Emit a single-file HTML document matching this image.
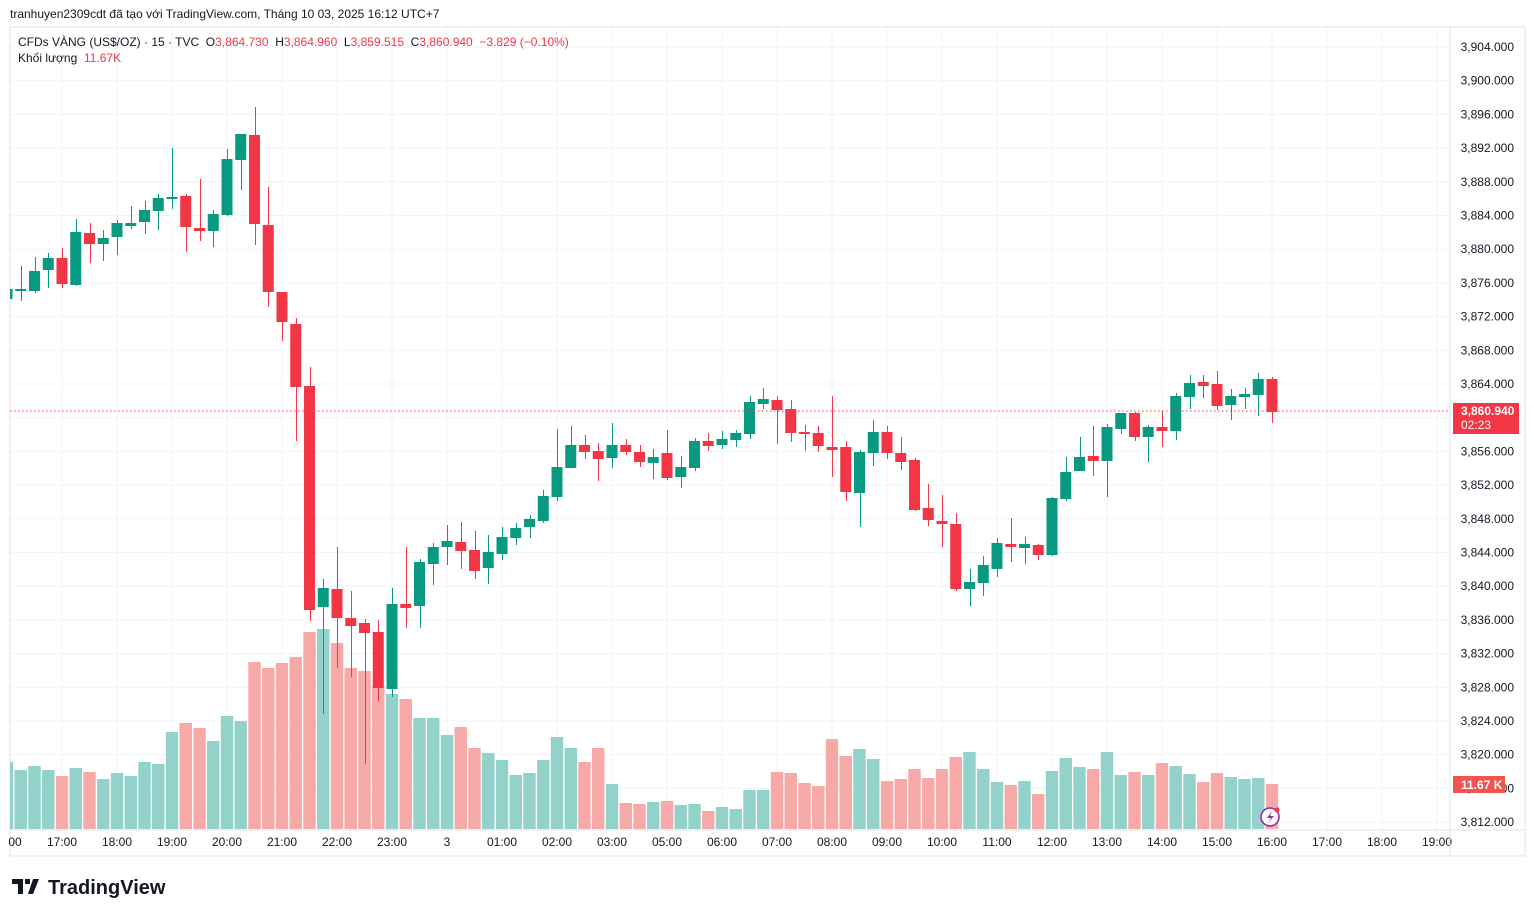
<!DOCTYPE html>
<html><head><meta charset="utf-8">
<style>
html,body{margin:0;padding:0;background:#fff;}
body{width:1534px;height:917px;overflow:hidden;font-family:"Liberation Sans","DejaVu Sans",sans-serif;}
svg text{font-family:"Liberation Sans","DejaVu Sans",sans-serif;white-space:pre;}
</style></head>
<body>
<svg id="s" width="1534" height="917" xmlns="http://www.w3.org/2000/svg"></svg>
<script>
(function(){
var C=[
[289,289,299,299],[289,266,301,289],[291,257,293,271],[270,253,288,258],[258,248,288,284],
[285,219,286,232],[233,223,263,244],[244,230,261,238],[237,220,255,223],[226,206,229,223],
[222,201,234,210],[211,194,230,198],[198,148,209,197],[196,194,252,227],[228,179,241,231],
[231,210,247,214],[215,149,216,159],[160,134,190,134],[135,107,245,224],[225,187,307,292],
[292,292,341,322],[324,318,441,387],[386,367,621,610],[607,579,714,588],[589,547,668,618],
[618,591,677,626],[623,619,764,633],[632,620,701,688],[689,588,697,604],[604,547,628,608],
[606,559,628,562],[564,543,585,547],[547,525,565,541],[542,522,569,551],[550,531,579,571],
[568,535,584,552],[554,527,560,537],[538,523,545,528],[527,515,538,519],[521,490,523,496],
[497,429,501,467],[468,426,468,445],[445,435,459,452],[451,443,481,459],[458,423,468,445],
[445,439,455,452],[452,445,467,462],[463,449,479,457],[453,430,480,478],[477,456,488,467],
[468,438,471,441],[441,433,451,446],[445,431,449,439],[440,430,447,433],[434,396,439,402],
[404,388,409,399],[400,396,444,410],[409,400,442,433],[432,425,451,434],[433,426,452,446],
[447,396,477,450],[447,441,501,492],[493,450,527,452],[453,420,466,432],[432,426,459,453],
[453,437,470,462],[460,458,511,510],[508,484,526,520],[521,495,547,524],[524,513,591,589],
[589,569,606,582],[583,556,596,565],[569,538,577,543],[544,518,562,547],[548,537,564,544],
[545,544,560,555],[555,497,556,498],[499,457,501,472],[471,437,471,457],[456,426,476,461],
[461,424,497,427],[429,413,434,413],[413,412,441,437],[437,425,462,427],[427,411,447,431],
[431,393,440,396],[397,375,409,383],[382,375,398,386],[384,371,410,406],[405,389,420,396],
[397,388,409,394],[395,373,416,379],[379,377,423,412]];
var V=[762,770,766,770,776,768,772,779,773,776,762,764,732,723,728,741,716,721,662,668,663,657,632,629,643,668,671,686,694,699,718,718,735,727,748,753,760,775,773,760,737,748,762,748,784,803,804,802,801,805,804,811,807,809,790,790,772,773,783,786,739,756,749,759,781,779,769,778,769,757,752,769,782,785,781,794,771,758,767,769,752,775,772,775,763,766,774,782,773,777,779,778,784];
var reds=[4,6,13,14,18,19,20,21,22,24,25,26,27,29,33,34,42,43,45,46,48,51,56,57,58,59,60,61,64,65,66,67,68,69,73,75,79,82,84,87,88,92];
var s='';
function R(x,y,w,h,f,extra){s+='<rect x="'+x+'" y="'+y+'" width="'+w+'" height="'+h+'" fill="'+f+'" '+(extra||'')+'/>';}
function T(x,y,t,f,sz,anc,w){s+='<text x="'+x+'" y="'+y+'" fill="'+f+'" font-size="'+sz+'" text-anchor="'+(anc||'start')+'"'+(w?' font-weight="'+w+'"':'')+'>'+t+'</text>';}
R(10,27,1515,829,'none','stroke="#e0e3eb" stroke-width="1"');
for(var k=0;k<24;k++){var yy=47+k*33.7;s+='<line x1="10" x2="1450" y1="'+yy+'" y2="'+yy+'" stroke="#f0f3fa" stroke-width="1"/>';
 var p=3904-4*k;var lab=(p+'').replace(/^(\d)(\d{3})$/,'$1,$2')+'.000';T(1514,yy+4,lab,'#131722',12,'end');}
var tl=['00','17:00','18:00','19:00','20:00','21:00','22:00','23:00','3','01:00','02:00','03:00','05:00','06:00','07:00','08:00','09:00','10:00','11:00','12:00','13:00','14:00','15:00','16:00','17:00','18:00','19:00'];
for(var i=0;i<tl.length;i++){var xx=7+55*i;if(i>0)s+='<line x1="'+xx+'" x2="'+xx+'" y1="27" y2="830" stroke="#f0f3fa"/>';
 T(i==0?15:xx,846,tl[i],'#131722',12,'middle');}
s+='<line x1="10" x2="1525" y1="830" y2="830" stroke="#e0e3eb"/>';
s+='<line x1="1450" x2="1450" y1="27" y2="856" stroke="#e0e3eb"/>';
for(var i=0;i<V.length;i++){var xc=7+13.75*i;var isRed=reds.indexOf(i)>=0;
 var x0=Math.max(10,xc-6.2);R(x0,V[i],xc+6.2-x0,829-V[i],isRed?'#f7a9a7':'#92d2ca');}
for(var i=0;i<C.length;i++){var xc=7+13.75*i;var c=C[i];var isRed=reds.indexOf(i)>=0;var col=isRed?'#f23645':'#089981';
 var bt=Math.min(c[0],c[3]),bb=Math.max(c[0],c[3]);if(bb-bt<2){bb=bt+2;}
 var x0=Math.max(10,xc-5.5);
 if(xc>=10)R(Math.round(xc),c[1],1,c[2]-c[1],col);
 R(x0,bt,xc+5.5-x0,bb-bt,col);}
s+='<line x1="10" x2="1450" y1="411" y2="411" stroke="#f23645" stroke-dasharray="1.5,2.5"/>';
R(1453,403,66,31,'#f23645');T(1461,415,'3,860.940','#fff',12,'start','bold');T(1461,429,'02:23','#fff',12);
R(1453,776,52,17,'#f05350');T(1461,789,'11.67 K','#fff',12,'start','bold');
s+='<circle cx="1270" cy="817" r="9" fill="#fff" stroke="#9c27b0" stroke-width="1.6"/><path d="M1272 811 L1267 818 L1271 818 L1268 823 L1274 816 L1270 816 Z" fill="#9c27b0"/><circle cx="1277" cy="810" r="2.5" fill="#f23645"/>';
T(10,18,'tranhuyen2309cdt đã tạo với TradingView.com, Tháng 10 03, 2025 16:12 UTC+7','#131722',12);
s+='<text x="18" y="46" font-size="12" fill="#131722">CFDs VÀNG (US$/OZ) · 15 · TVC  O<tspan fill="#f23645">3,864.730</tspan>  H<tspan fill="#f23645">3,864.960</tspan>  L<tspan fill="#f23645">3,859.515</tspan>  C<tspan fill="#f23645">3,860.940</tspan>  <tspan fill="#f23645">−3.829 (−0.10%)</tspan></text>';
s+='<text x="18" y="62" font-size="12" fill="#131722">Khối lượng  <tspan fill="#f23645">11.67K</tspan></text>';
s+='<path d="M12 879 h11 v15 h-5 v-10 h-6z M25 879 h5 v5 h-5z" fill="#131722"/><path d="M33 879 h6 l-6 15 h-5z" fill="#131722"/>';
T(48,894,'TradingView','#131722',20,'start','bold');
document.getElementById('s').innerHTML=s;
})();
</script>
</body></html>
